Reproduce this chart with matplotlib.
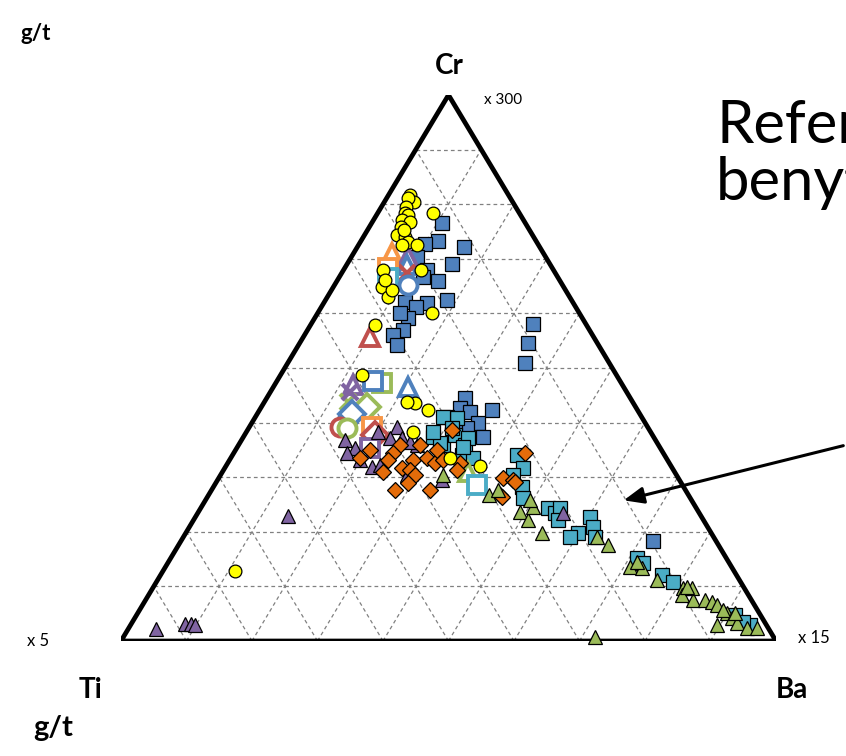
"""Ternary diagram Cr - Ti - Ba (g/t) with sample groups."""

import numpy as np
import matplotlib
matplotlib.use("Agg")
import matplotlib.pyplot as plt

plt.rcParams["font.family"] = ["Lato", "DejaVu Sans"]

# ---- data: (Cr %, Ba %) per point, Ti = 100 - Cr - Ba ----
yellow_cr = [81.7, 80.4, 81.1, 79.5, 78.4, 78.0, 77.1, 76.7, 78.4, 75.8, 74.4, 74.0, 73.1, 72.5,
             72.5, 67.9, 67.9, 64.8, 63.0, 64.3, 60.1, 57.9, 66.1, 75.3, 48.7, 43.6, 42.3, 43.8,
             38.3, 33.5, 32.1, 12.8]
yellow_ba = [3.2, 4.6, 3.2, 3.8, 4.1, 4.8, 4.4, 5.7, 8.4, 4.9, 5.0, 6.3, 7.2, 8.9,
             6.6, 11.9, 6.0, 7.5, 9.2, 9.3, 17.4, 9.8, 7.2, 5.5, 12.4, 23.1, 25.7, 21.7,
             25.4, 33.5, 38.7, 11.0]

blue_cr = [76.6, 73.3, 72.2, 72.7, 69.0, 70.3, 67.9, 66.7, 65.9, 62.5, 61.9, 62.1, 61.2, 59.2,
           60.1, 57.0, 56.0, 54.2, 58.1, 54.6, 50.9, 42.3, 18.3, 44.5, 42.7, 41.9, 39.9, 37.4,
           39.0, 39.9]
blue_ba = [10.7, 11.8, 16.2, 10.0, 16.1, 10.0, 12.7, 12.7, 15.5, 18.5, 15.7, 12.3, 14.5, 14.2,
           12.5, 14.5, 13.5, 15.0, 33.8, 34.8, 36.2, 35.5, 72.1, 30.2, 30.4, 32.3, 34.5, 36.5,
           33.3, 31.0]

cyan_cr = [37.4, 35.9, 37.7, 35.9, 34.1, 41.0, 40.8, 37.2, 33.5, 34.1, 31.7, 30.4, 28.2, 26.2,
           24.4, 23.4, 24.4, 22.2, 22.7, 20.9, 19.8, 19.0, 19.0, 15.2, 14.3, 12.1, 10.8, 4.8,
           2.9, 3.5, 41.0, 36.3, 35.5, 39.0, 38.3]
cyan_ba = [28.9, 31.2, 32.1, 34.5, 35.0, 29.2, 30.9, 34.4, 37.0, 43.4, 45.5, 44.6, 47.1, 48.2,
           53.0, 54.5, 54.8, 55.6, 60.2, 61.6, 59.8, 59.0, 62.9, 71.2, 72.5, 76.5, 78.9, 91.3,
           94.6, 93.2, 28.6, 30.5, 34.4, 31.0, 28.5]

orange_cr = [38.6, 35.9, 34.4, 33.2, 33.5, 33.2, 31.7, 31.3, 30.4, 32.6, 35.0, 32.6, 31.3, 28.9,
             33.5, 29.9, 29.5, 34.4, 26.7, 29.1, 26.4, 33.2, 35.0, 31.0, 27.7, 35.9, 27.7]
orange_ba = [31.2, 24.6, 24.3, 28.0, 29.9, 24.1, 27.0, 28.4, 29.7, 31.6, 30.7, 35.4, 35.6, 29.3,
             19.7, 43.3, 45.1, 44.5, 44.5, 45.6, 44.9, 32.5, 20.5, 24.5, 33.3, 27.7, 28.0]

purple_cr = [39.2, 37.2, 35.9, 38.3, 35.3, 31.9, 30.4, 29.5, 37.2, 36.8, 34.4, 22.9, 2.2, 3.1,
             3.1, 2.9, 23.4, 36.4, 33.2, 32.2]
purple_ba = [22.5, 22.4, 27.2, 20.1, 18.0, 22.4, 28.4, 34.2, 24.3, 15.8, 17.3, 14.0, 4.2, 8.2,
             9.1, 9.8, 55.8, 25.9, 19.9, 23.4]

green_cr = [26.7, 27.7, 23.6, 22.2, 24.5, 19.8, 25.8, 19.0, 17.6, 13.6, 13.4, 14.5, 11.2, 9.7,
            8.4, 7.5, 9.7, 7.5, 7.1, 6.6, 5.1, 4.2, 3.3, 2.4, 2.9, 0.7, 5.7, 5.1, 2.4, 9.9, 30.4]
green_ba = [42.9, 43.7, 49.1, 51.0, 50.6, 54.4, 49.5, 63.2, 65.5, 70.9, 72.8, 71.5, 76.2, 80.9,
            81.4, 83.6, 82.3, 85.4, 86.7, 87.7, 90.0, 91.2, 92.4, 94.4, 89.5, 72.0, 89.1, 91.2,
            95.9, 81.5, 33.9]

# reference samples (open markers): Cr %, Ba %, colour, marker
ref_cr = [46.9, 47.3, 47.6, 43.8, 42.9, 45.6, 40.8, 41.6, 39.2, 39.0, 39.2, 37.7, 35.3, 46.5,
          31.0, 28.6, 71.1, 70.3, 68.9, 67.4, 68.3, 66.5, 65.2, 55.7]
ref_ba = [11.9, 16.2, 14.6, 12.7, 16.1, 12.1, 14.2, 14.4, 13.8, 15.0, 18.7, 19.9, 20.3, 20.5,
          37.5, 40.0, 5.9, 8.6, 9.2, 9.9, 6.6, 7.5, 11.2, 10.1]
ref_color = ["purple", "green", "blue", "green", "green", "purple", "blue", "blue", "red", "green",
             "orange", "red", "purple", "blue", "green", "cyan", "orange", "purple", "blue", "red",
             "orange", "cyan", "blue", "red"]
ref_marker = ["^", "s", "s", "x", "D", "x", "o", "D", "o", "o", "s", "D", "s", "^",
              "^", "s", "^", "^", "^", "x", "s", "s", "o", "^"]

palette = {
    "yellow": "#FFFF00",
    "blue": "#4F81BD",
    "cyan": "#4BACC6",
    "orange": "#E46C0A",
    "purple": "#8064A2",
    "green": "#9BBB59",
    "red": "#C0504D",
    "lorange": "#F79646",
}


def tern(cr, ba):
    """Ternary (Cr %, Ba %) -> cartesian, Ti at (0,0), Ba at (1,0), Cr at (0.5,1)."""
    cr = np.asarray(cr, dtype=float) / 100.0
    ba = np.asarray(ba, dtype=float) / 100.0
    return ba + cr / 2.0, cr


W, H = 846, 756
fig = plt.figure(figsize=(W / 100, H / 100), dpi=100)
ax = fig.add_axes([121 / W, (H - 641) / H, 655 / W, 546 / H])
ax.set_xlim(0, 1)
ax.set_ylim(0, 1)
ax.axis("off")

# grid: 10 % steps in each component
for k in range(1, 10):
    f = k * 10
    grid_kw = dict(color="#808080", lw=0.9, ls=(0, (3, 2.5)), zorder=1)
    ax.plot(*tern([f, f], [0, 100 - f]), **grid_kw)          # constant Cr
    ax.plot(*tern([0, 100 - f], [f, f]), **grid_kw)          # constant Ba
    ax.plot(*tern([0, 100 - f], [100 - f, 0]), **grid_kw)    # constant Ti

# outline
ox, oy = tern([0, 0, 100, 0], [0, 100, 0, 0])
ax.plot(ox, oy, color="black", lw=3.4, solid_joinstyle="miter", zorder=2)

filled_kw = dict(ls="none", mec="black", mew=0.9, clip_on=False)
ax.plot(*tern(blue_cr, blue_ba), "s", ms=9.8, mfc=palette["blue"], zorder=3, **filled_kw)
ax.plot(*tern(cyan_cr, cyan_ba), "s", ms=9.8, mfc=palette["cyan"], zorder=4, **filled_kw)

for cr, ba, c, m in zip(ref_cr, ref_ba, ref_color, ref_marker):
    col = palette["lorange"] if c == "orange" else palette[c]
    x, y = tern([cr], [ba])
    if m == "x":
        ax.plot(x, y, m, ms=12, mew=3, color=col, zorder=5, clip_on=False)
    else:
        ax.plot(x, y, m, ms=13, mew=2.8, mfc="white", mec=col, zorder=5, clip_on=False)

ax.plot(*tern(purple_cr, purple_ba), "^", ms=10, mfc=palette["purple"], zorder=6, **filled_kw)
ax.plot(*tern(orange_cr, orange_ba), "D", ms=8, mfc=palette["orange"], zorder=7, **filled_kw)
ax.plot(*tern(green_cr, green_ba), "^", ms=10, mfc=palette["green"], zorder=8, **filled_kw)
ax.plot(*tern(yellow_cr, yellow_ba), "o", ms=9.2, mfc=palette["yellow"], zorder=9, **filled_kw)


def px_text(x, y, s, **kw):
    fig.text(x / W, 1 - y / H, s, **kw)


px_text(20, 34, "g/t", fontsize=16, fontweight="bold", va="center")
px_text(449, 66, "Cr", fontsize=20, fontweight="bold", ha="center", va="center")
px_text(484, 100, "x 300", fontsize=11, va="center")
px_text(27, 641, "x 5", fontsize=12, va="center")
px_text(798, 638, "x 15", fontsize=12, va="center")
px_text(79, 690, "Ti", fontsize=20, fontweight="bold", va="center")
px_text(776, 690, "Ba", fontsize=20, fontweight="bold", va="center")
px_text(33, 728, "g/t", fontsize=21, fontweight="bold", va="center")
# slide text, cropped at the right edge as in the original screenshot
px_text(716, 143, "Referanse", fontsize=43, va="baseline")
px_text(716, 200, "benyttet", fontsize=43, va="baseline")

# arrow pointing into the diagram
fig.add_artist(matplotlib.patches.FancyArrowPatch(
    (846 / W, 1 - 445 / H), (621 / W, 1 - 501 / H), transform=fig.transFigure,
    arrowstyle="-|>,head_length=12,head_width=5", mutation_scale=1,
    color="black", lw=2.2))

fig.savefig("out.png", dpi=100)
